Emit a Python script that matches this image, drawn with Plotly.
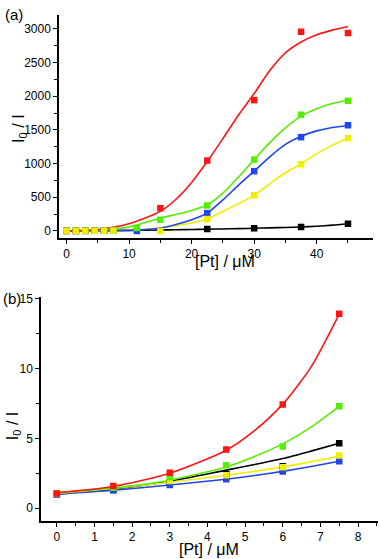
import plotly.graph_objects as go

W, H = 380, 559

# ---------- Panel (a) data ----------
xa = [0, 1.5, 3, 4.5, 6, 7.5, 11.25, 15, 22.5, 30, 37.5, 45]
red_a = [1, 1.6, 2.5, 4.2, 7.4, 13.9, None, 338, 1045, 1941, 2956, 2937]
green_a = [1, 1.5, 2.2, 3.1, 4.4, 7.3, 44, 166, 378, 1059, 1725, 1931]
blue_a = [1, 1.3, 1.7, 2.1, 2.6, 3.4, 0, None, 265, 887, 1392, 1569]
yellow_a = [1, 1.5, 1.9, 2.4, 2.9, 3.8, None, 0, 176, 529, 990, 1378]
black_a = [1, 1.3, 1.9, 2.7, 3.5, 4.6, None, None, 29, 40, 59, 107]

# fitted curves
xa_fit = [0, 5, 10, 15, 17.5, 20, 22.5, 25, 27.5, 30, 32.5, 35, 37.5, 40, 42.5, 45]
red_a_fit = [0, 20, 107, 290, 470, 720, 1030, 1370, 1720, 2039, 2380, 2643, 2804, 2912, 2980, 3034]
green_a_fit = [0, 12, 60, 190, 245, 305, 385, 560, 800, 1059, 1310, 1530, 1705, 1815, 1890, 1940]
blue_a_fit = [0, 2, 8, 44, 95, 166, 265, 460, 680, 887, 1100, 1284, 1405, 1485, 1535, 1565]
yellow_a_fit = [0, 2, 10, 44, 78, 118, 176, 290, 405, 529, 700, 863, 995, 1147, 1270, 1378]
black_a_fit = [0, 4, 9, 15, 18, 22, 26, 30, 35, 40, 46, 52, 59, 70, 86, 107]

# ---------- Panel (b) data ----------
xb = [0, 1.5, 3, 4.5, 6, 7.5]
red_b = [1.04, 1.58, 2.53, 4.19, 7.43, 13.93]
green_b = [1.05, 1.45, 2.22, 3.07, 4.42, 7.29]
blue_b = [1.0, 1.28, 1.65, 2.06, 2.63, 3.36]
yellow_b = [1.04, 1.51, 1.94, 2.36, 2.93, 3.76]
black_b = [1.0, 1.3, 1.85, 2.45, 3.0, 4.64]

xb_fit = [0, 1.5, 3, 4.5, 5.25, 6, 6.75, 7.5]
red_b_fit = [1.1, 1.55, 2.5, 4.15, 5.55, 7.45, 10.1, 13.9]
green_b_fit = [1.1, 1.45, 2.0, 2.95, 3.7, 4.6, 5.8, 7.29]
black_b_fit = [1.0, 1.35, 1.92, 2.72, 3.12, 3.55, 4.08, 4.64]
yellow_b_fit = [1.05, 1.4, 1.85, 2.35, 2.63, 2.95, 3.32, 3.72]
blue_b_fit = [1.0, 1.28, 1.65, 2.07, 2.33, 2.63, 2.98, 3.36]

RED, GREEN, BLUE, YELLOW, BLACK = "#ff1414", "#55ee00", "#2244ee", "#eeee00", "#000000"

fig = go.Figure()

def add_curve(x, y, color, xa_, ya_):
    fig.add_trace(go.Scatter(x=x, y=y, mode="lines", line=dict(color=color, width=1.6, shape="spline", smoothing=0.7),
                             xaxis=xa_, yaxis=ya_, showlegend=False, hoverinfo="skip"))

def add_pts(x, y, color, xa_, ya_):
    fig.add_trace(go.Scatter(x=x, y=y, mode="markers", marker=dict(symbol="square", size=6.5, color=color),
                             xaxis=xa_, yaxis=ya_, showlegend=False))

for y, c in [(black_a_fit, BLACK), (yellow_a_fit, YELLOW), (blue_a_fit, BLUE), (green_a_fit, GREEN), (red_a_fit, RED)]:
    add_curve(xa_fit, y, c, "x", "y")
for y, c in [(black_a, BLACK), (red_a, RED), (blue_a, BLUE), (green_a, GREEN), (yellow_a, YELLOW)]:
    add_pts(xa, y, c, "x", "y")

for y, c in [(black_b_fit, BLACK), (blue_b_fit, BLUE), (yellow_b_fit, YELLOW), (green_b_fit, GREEN), (red_b_fit, RED)]:
    add_curve(xb_fit, y, c, "x2", "y2")
for y, c in [(black_b, BLACK), (blue_b, BLUE), (yellow_b, YELLOW), (green_b, GREEN), (red_b, RED)]:
    add_pts(xb, y, c, "x2", "y2")

def px(x):
    return x / W

def py(y):
    return 1 - y / H

axis_common = dict(showgrid=False, zeroline=False, showline=True, linecolor="black", linewidth=1.5,
                   ticks="outside", ticklen=4, tickwidth=1.3, tickcolor="black",
                   tickfont=dict(family="Liberation Sans, Arial", size=12, color="black"),
                   mirror=False)

fig.update_layout(
    width=W, height=H, margin=dict(l=0, r=0, t=0, b=0),
    paper_bgcolor="white", plot_bgcolor="white",
    xaxis=dict(domain=[px(59), px(373)], anchor="y", range=[-1.2, 49], tick0=0, dtick=10,
               minor=dict(dtick=5, ticks="outside", ticklen=3, tickcolor="black", tickwidth=1.2), **axis_common),
    yaxis=dict(domain=[py(235), py(10)], anchor="x", range=[-103, 3206], tick0=0, dtick=500,
               minor=dict(dtick=250, ticks="outside", ticklen=3, tickcolor="black", tickwidth=1.2), **axis_common),
    xaxis2=dict(domain=[px(41), px(378)], anchor="y2", range=[-0.42, 8.53], tick0=0, dtick=1,
                minor=dict(dtick=0.5, ticks="outside", ticklen=3, tickcolor="black", tickwidth=1.2), **axis_common),
    yaxis2=dict(domain=[py(521), py(295)], anchor="x2", range=[-0.95, 15.1], tick0=0, dtick=5,
                minor=dict(dtick=2.5, ticks="outside", ticklen=3, tickcolor="black", tickwidth=1.2), **axis_common),
)

font_t = dict(family="Liberation Sans, Arial", size=16, color="black")
anns = [
    dict(x=px(3), y=py(10), text="(a)", xanchor="left", yanchor="middle", font=dict(family="Liberation Sans, Arial", size=15, color="black")),
    dict(x=px(1), y=py(296), text="(b)", xanchor="left", yanchor="middle", font=dict(family="Liberation Sans, Arial", size=15, color="black")),
    dict(x=px(225), y=py(259), text="[Pt] / μM", xanchor="center", yanchor="middle", font=font_t),
    dict(x=px(209), y=py(549), text="[Pt] / μM", xanchor="center", yanchor="middle", font=font_t),
    dict(x=px(20), y=py(125), text="I<sub>0</sub> / I", textangle=-90, xanchor="center", yanchor="middle", font=font_t),
    dict(x=px(13), y=py(425), text="I<sub>0</sub> / I", textangle=-90, xanchor="center", yanchor="middle", font=font_t),
]
for a in anns:
    a.update(xref="paper", yref="paper", showarrow=False)
fig.update_layout(annotations=anns)

fig.write_html("out.html", config={"displayModeBar": False},
               post_script="document.body.style.margin='0';document.body.style.overflow='hidden';")
